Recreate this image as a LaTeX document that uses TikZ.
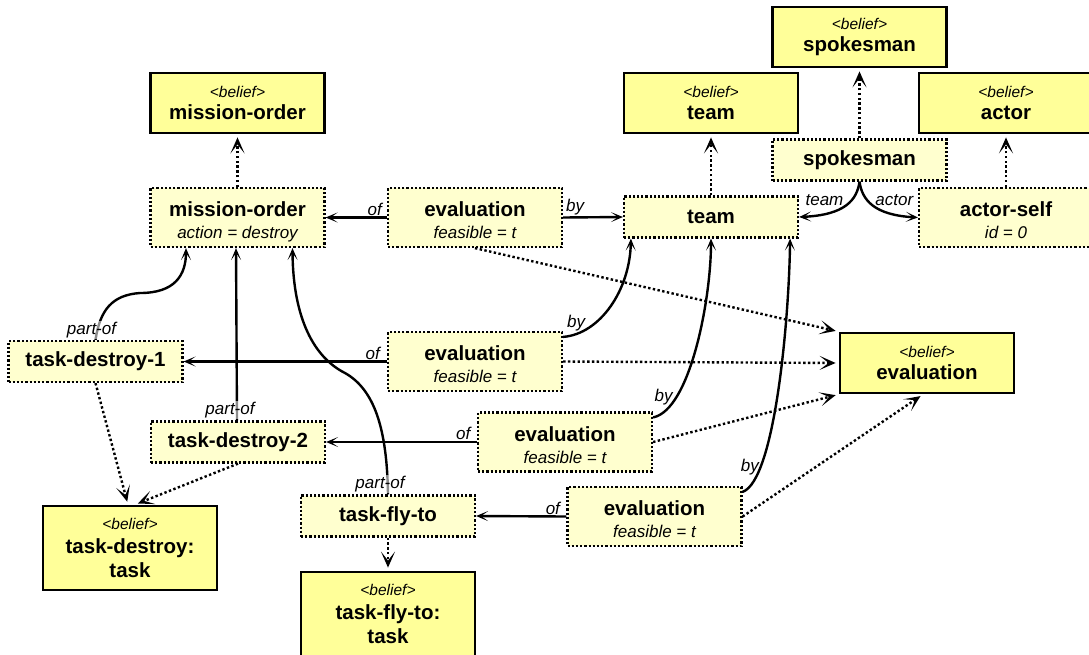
\documentclass[tikz,border=0pt]{standalone}
\usepackage{fontspec}
\setmainfont{Liberation Sans}
\usetikzlibrary{arrows.meta}

\definecolor{beliefyellow}{RGB}{255,255,153}
\definecolor{instyellow}{RGB}{255,255,207}

% text styles used inside the boxes
\newcommand\namefont{\fontsize{20.5}{22}\selectfont\bfseries}
\newcommand\tagfont{\fontsize{15.5}{22}\selectfont\mdseries\itshape}
\newcommand\attrfont{\fontsize{17}{22}\selectfont\mdseries\itshape}
\newcommand\btag{{\tagfont<belief>}}
\newcommand\attr[1]{{\attrfont #1}}

\tikzset{
  belief/.style={draw, line width=2.8pt, fill=beliefyellow, minimum width=174pt,
    minimum height=60pt, inner sep=0pt, align=center, font=\namefont},
  belief3/.style={belief, minimum height=84pt,
    font=\fontsize{20.5}{24}\selectfont\bfseries},
  inst/.style={draw, line width=2.2pt, dash pattern=on 2.2pt off 2pt, fill=instyellow,
    minimum width=174pt, minimum height=41pt, inner sep=0pt, align=center, font=\namefont},
  inst2/.style={inst, minimum height=59pt, text height=46pt, text depth=4pt},
  link/.style={line width=2.4pt, -{Stealth[length=12pt,width=10pt,inset=7pt]}},
  isa/.style={line width=2.4pt, dash pattern=on 2.4pt off 2.4pt, shorten >=3pt,
    -{Stealth[length=16pt,width=14pt,inset=9pt]}},
  lbl/.style={font=\fontsize{17}{20}\selectfont\itshape, inner sep=1pt},
  plbl/.style={lbl, fill=white, fill opacity=0.55, text opacity=1, anchor=south},
}

\begin{document}
\begin{tikzpicture}[x=1pt, y=-1pt]
\useasboundingbox (0,0) rectangle (1089,654);

% belief boxes
\node[belief] (bmo)  at (237.5,103) {\btag\\mission-order};
\node[belief] (bspk) at (859.5,37)  {\btag\\spokesman};
\node[belief] (bteam) at (711,103)  {\btag\\team};
\node[belief] (bact) at (1006,103)  {\btag\\actor};
\node[belief] (bev)  at (927,363)   {\btag\\evaluation};
\node[belief3] (btd) at (130,548)   {\btag\\task-destroy:\\task};
\node[belief3] (btf) at (388,614)   {\btag\\task-fly-to:\\task};

% instance boxes
\node[inst2] (mo)   at (237.5,217.5) {mission-order\\\attr{action = destroy}};
\node[inst2] (e1)   at (475,217.5)   {evaluation\\\attr{feasible = t}};
\node[inst]  (team) at (711,217)     {team};
\node[inst]  (spk)  at (859.5,160)   {spokesman};
\node[inst2] (as)   at (1006,217.5)  {actor-self\\\attr{id = 0}};
\node[inst]  (td1)  at (95.5,361.5)  {task-destroy-1};
\node[inst2] (e2)   at (475,361.5)   {evaluation\\\attr{feasible = t}};
\node[inst]  (td2)  at (238,442)     {task-destroy-2};
\node[inst2] (e3)   at (565,442)     {evaluation\\\attr{feasible = t}};
\node[inst]  (tf)   at (388,516)     {task-fly-to};
\node[inst2] (e4)   at (654.5,516.5) {evaluation\\\attr{feasible = t}};

% instance-of links
\draw[isa] (mo) -- (bmo);
\draw[isa] (spk) -- (bspk);
\draw[isa] (team) -- (bteam);
\draw[isa] (as) -- (bact);
\draw[isa] (tf) -- (btf);
\draw[isa] (td1.south) -- ([xshift=-2pt]btd.north);
\draw[isa] (td2.south) -- ([xshift=5pt]btd.north);
\draw[isa] (e1.south) -- (bev.north west);
\draw[isa] (e2.east) -- (bev.west);
\draw[isa] (e3.east) -- (bev.south west);
\draw[isa] (e4.east) -- ([xshift=-4pt]bev.south);

% "of" relations
\draw[link] (e1.west) -- node[lbl, pos=0.2, above] (l1) {of} (mo.east);
\draw[link] (e2.west) -- node[lbl, pos=0.07, above] (l2) {of} (td1.east);
\draw[link] (e3.west) -- node[lbl, pos=0.09, above] (l3) {of} (td2.east);
\draw[link] (e4.west) -- node[lbl, pos=0.15, above] (l4) {of} (tf.east);

% "by" relations
\draw[link] (e1.east) -- node[lbl, pos=0.2, above] (l5) {by} (team.west);
\draw[link] ([yshift=-6pt]e2.north east) .. controls (600,334) and (630,290) ..
  node[lbl, pos=0.15, anchor=south, xshift=-3pt] (l6) {by} ([xshift=8pt]team.south west);
\draw[link] ([yshift=-6pt]e3.north east) .. controls (690,410) and (711,300) ..
  node[lbl, pos=0.15, anchor=south, xshift=-5pt] (l7) {by} (team.south);
\draw[link] ([yshift=-6pt]e4.north east) .. controls (775,480) and (789,320) ..
  node[lbl, pos=0.15, anchor=south, xshift=-6pt] (l8) {by} ([xshift=-9pt]team.south east);

% spokesman roles
\draw[link] (spk.south) .. controls (857,200) and (845,215) ..
  node[lbl, pos=0.5, anchor=east, yshift=5pt] (l9) {team} (team.east);
\draw[link] (spk.south) .. controls (862,200) and (874,215) ..
  node[lbl, pos=0.5, anchor=west, yshift=5pt] (l10) {actor} (as.west);

% part-of relations
\draw[link] (td1.north) node[plbl, xshift=-4pt] (l11) {part-of}
  .. controls (100,310) and (112,295) .. (140,293)
  .. controls (175,293) and (186,275) .. ([xshift=-51.5pt]mo.south);
\draw[link] ([xshift=-1pt]td2.north) node[plbl, xshift=-7pt] (l12) {part-of}
  -- ([xshift=-1.5pt]mo.south);
\draw[link] (tf.north) node[plbl, xshift=-8pt] (l13) {part-of}
  .. controls (387,430) and (375,390) .. (345,373)
  .. controls (315,358) and (293,320) .. ([xshift=55pt]mo.south);
\end{tikzpicture}
\end{document}
